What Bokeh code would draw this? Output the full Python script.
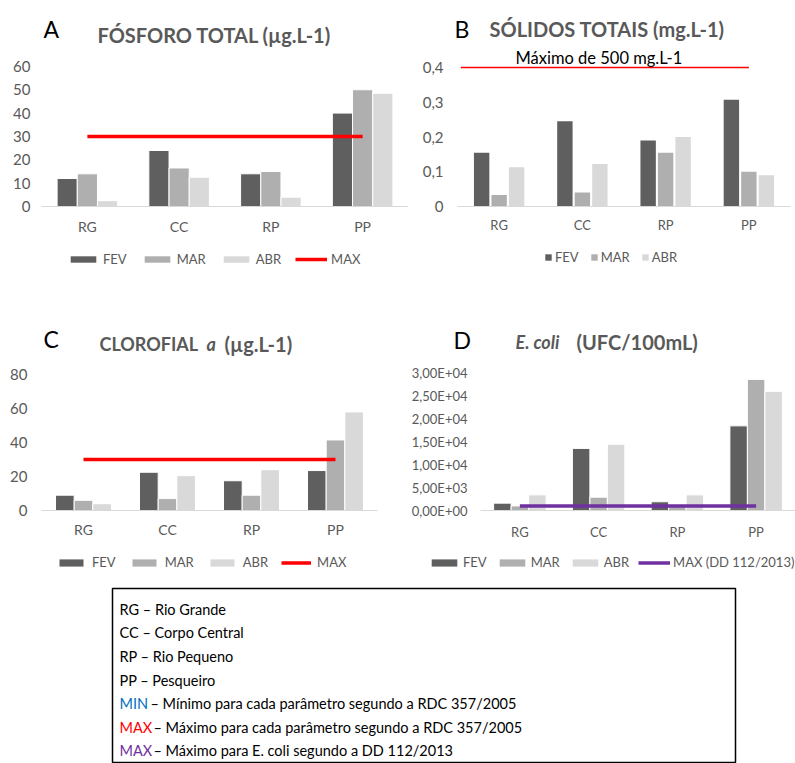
from bokeh.plotting import figure
from bokeh.models import (Range1d, FactorRange, FixedTicker, Label, ColumnDataSource,
                          Legend, LegendItem)
from bokeh.transform import dodge
from bokeh.layouts import column, row
from bokeh.embed import file_html
from bokeh.resources import INLINE

# ---------------- data ----------------
cats = ["RG", "CC", "RP", "PP"]

fosforo_fev = [12, 24, 14, 40]
fosforo_mar = [14, 16.5, 15, 50]
fosforo_abr = [2.5, 12.5, 4, 48.5]
fosforo_max = [30, 30, 30, 30]
fosforo_ticks = [0, 10, 20, 30, 40, 50, 60]
fosforo_tick_labels = ["0", "10", "20", "30", "40", "50", "60"]

solidos_fev = [0.155, 0.245, 0.19, 0.307]
solidos_mar = [0.033, 0.04, 0.155, 0.1]
solidos_abr = [0.113, 0.122, 0.2, 0.09]
solidos_max_from = ["RG"]
solidos_max_to = ["PP"]
solidos_max = [0.4]
solidos_ticks = [0, 0.1, 0.2, 0.3, 0.4]
solidos_tick_labels = ["0", "0,1", "0,2", "0,3", "0,4"]

clorofila_fev = [9, 22.5, 17.5, 23.5]
clorofila_mar = [6, 7, 9, 41.5]
clorofila_abr = [4, 20.5, 24, 58]
clorofila_max = [30, 30, 30, 30]
clorofila_ticks = [0, 20, 40, 60, 80]
clorofila_tick_labels = ["0", "20", "40", "60", "80"]

ecoli_fev = [1600, 13500, 1900, 18400]
ecoli_mar = [1000, 2900, 1000, 28500]
ecoli_abr = [3400, 14400, 3400, 25900]
ecoli_max = [1000, 1000, 1000, 1000]
ecoli_ticks = [0, 5000, 10000, 15000, 20000, 25000, 30000]
ecoli_tick_labels = ["0,00E+00", "5,00E+03", "1,00E+04", "1,50E+04",
                     "2,00E+04", "2,50E+04", "3,00E+04"]

series_names = ["FEV", "MAR", "ABR"]
series_cols = ["fev", "mar", "abr"]

key_prefix = ["", "", "", "", "MIN", "MAX", "MAX"]
key_prefix_colors = ["#000000", "#000000", "#000000", "#000000", "#0070c0", "#ff0000", "#7030a0"]
key_text = ["RG – Rio Grande", "CC – Corpo Central", "RP – Rio Pequeno", "PP – Pesqueiro",
            "– Mínimo para cada parâmetro segundo a RDC 357/2005",
            "– Máximo para cada parâmetro segundo a RDC 357/2005",
            "– Máximo para E. coli segundo a DD 112/2013"]

# ---------------- style ----------------
FONT = "Lato"
BAR_COLORS = ["#5f5f5f", "#afafaf", "#d9d9d9"]
GREY = "#595959"
W = 795


def blank_fig(width, height, x_range=None, y_range=None):
    q = figure(width=width, height=height,
               x_range=x_range if x_range is not None else Range1d(0, 1),
               y_range=y_range if y_range is not None else Range1d(0, 1),
               output_backend="svg", toolbar_location=None,
               x_axis_location=None, y_axis_location=None, min_border_left=0,
               min_border_right=0, min_border_top=0, min_border_bottom=0)
    q.outline_line_color = None
    q.xgrid.grid_line_color = None
    q.ygrid.grid_line_color = None
    return q


def add_text(p, text, x, y, size, color, style="normal"):
    p.add_layout(Label(x=x, y=y, x_units="screen", y_units="screen", text=text,
                       text_font=FONT, text_font_size=size, text_color=color,
                       text_font_style=style, text_baseline="middle",
                       text_align="left"))


def make_chart(width, height, fl, fr, fb, top_tick, px_to_top, ticks, tick_labels,
               tick_size, cat_size, tick_standoff, cat_standoff):
    frame_h = height - fb
    y_end = top_tick * frame_h / px_to_top
    p = figure(width=width, height=height, x_range=FactorRange(*cats),
               y_range=Range1d(0, y_end), output_backend="svg",
               toolbar_location=None, min_border_left=fl, min_border_right=fr,
               min_border_top=0, min_border_bottom=fb)
    p.outline_line_color = None
    p.xgrid.grid_line_color = None
    p.ygrid.grid_line_color = None
    for ax in (p.xaxis[0], p.yaxis[0]):
        ax.major_tick_line_color = None
        ax.minor_tick_line_color = None
        ax.major_tick_out = 0
        ax.major_tick_in = 0
        ax.minor_tick_out = 0
        ax.minor_tick_in = 0
        ax.major_label_text_font = FONT
        ax.major_label_text_color = GREY
    xa = p.xaxis[0]
    xa.axis_line_color = "#d9d9d9"
    xa.axis_line_width = 1
    xa.major_label_text_font_size = cat_size
    xa.major_label_standoff = cat_standoff
    ya = p.yaxis[0]
    ya.axis_line_color = None
    ya.ticker = FixedTicker(ticks=ticks)
    ya.major_label_overrides = {t: l for t, l in zip(ticks, tick_labels)}
    ya.major_label_text_font_size = tick_size
    ya.major_label_standoff = tick_standoff
    return p


def add_bars(p, values, offset, bw, gap_line):
    src = ColumnDataSource(dict(cat=cats, fev=values[0], mar=values[1], abr=values[2]))
    for i, col in enumerate(series_cols):
        p.vbar(x=dodge("cat", (i - 1) * offset, range=p.x_range), top=col,
               width=bw, source=src, fill_color=BAR_COLORS[i], line_color="white",
               line_width=gap_line)
    return src


def add_legend(q, src, max_src, max_label, max_color, vx, vy, gw, gh, standoff,
               spacing):
    # legend keys: the strip's y range lies below zero and the bars have no
    # area, so these renderers only appear as legend keys
    items = []
    for name, col, colr in zip(series_names, series_cols, BAR_COLORS):
        r = q.vbar(x="cat", top=col, bottom=col, width=0, source=src,
                   fill_color=colr, line_color=None, line_alpha=0, line_width=0)
        items.append(LegendItem(label=name, renderers=[r]))
    if max_src is not None:
        rl = q.line(x="cat", y="mx", source=max_src, line_color=max_color,
                    line_width=3.5)
        items.append(LegendItem(label=max_label, renderers=[rl]))
    lg = Legend(items=items, location=(vx, vy), orientation="horizontal",
                glyph_width=gw, glyph_height=gh, label_standoff=standoff,
                spacing=spacing, padding=0, margin=0, border_line_color=None,
                background_fill_alpha=0, label_text_font=FONT,
                label_text_font_size="13px", label_text_color=GREY,
                label_height=gh, label_width=0)
    q.add_layout(lg, "center")


# ================= row 1 header  (y 0..48) =================
H1 = 48
hdr1 = blank_fig(W, H1)
add_text(hdr1, "A", 43, H1 - 28, "23px", "#000000")
add_text(hdr1, "FÓSFORO TOTAL (µg.L-1)", 97, H1 - 34.5, "20px", GREY, "bold")
add_text(hdr1, "B", 454, H1 - 28.5, "23px", "#000000")
add_text(hdr1, "SÓLIDOS TOTAIS (mg.L-1)", 489, H1 - 28, "20px", GREY, "bold")

# ================= row 1 charts  (y 48..245) =================
# A: x 0..408, frame x 41..408, y 48..207 ; 60 at y=66
pA = make_chart(408, 197, 41, 0, 38, 60, 141, fosforo_ticks, fosforo_tick_labels,
                "15px", "14px", 11, 11)
srcA = add_bars(pA, [fosforo_fev, fosforo_mar, fosforo_abr], 0.22, 0.22, 1)
srcAm = ColumnDataSource(dict(cat=cats, mx=fosforo_max))
pA.line(x="cat", y="mx", source=srcAm, line_color="#ff0000", line_width=3.5)

# B: x 408..795, frame x 457..790, y 48..206 ; 0.4 at y=67
pB = make_chart(387, 197, 49, 5, 39, 0.4, 139, solidos_ticks, solidos_tick_labels,
                "15px", "13px", 14, 10)
srcB = add_bars(pB, [solidos_fev, solidos_mar, solidos_abr], 0.21, 0.185, 0)
srcBm = ColumnDataSource(dict(x0=solidos_max_from, x1=solidos_max_to, y=solidos_max))
pB.segment(x0=dodge("x0", -0.46, range=pB.x_range), y0="y", x1="x1", y1="y",
           source=srcBm, line_color="#ff0000", line_width=1.3)
add_text(pB, "Máximo de 500 mg.L-1", 515 - 457, 206 - 57, "16.5px", "#000000")

# ================= row 1 legends  (y 245..300) =================
leg1 = blank_fig(W, 55, FactorRange(*cats), Range1d(-2, -1))
add_legend(leg1, srcA, srcAm, "MAX", "#ff0000", 67, 33, 32, 8, 4, 14)
add_legend(leg1, srcB, None, None, None, 544, 35, 8, 8, 3, 11)

# ================= row 2 header  (y 300..356) =================
H2 = 56
hdr2 = blank_fig(W, H2)
add_text(hdr2, "C", 43, 356 - 338, "23px", "#000000")
add_text(hdr2, "CLOROFIAL", 99, 356 - 343, "18px", GREY, "bold")
add_text(hdr2, "a", 206, 356 - 343, "18px", GREY, "bold italic")
add_text(hdr2, "(µg.L-1)", 224, 356 - 343, "20px", GREY, "bold")
add_text(hdr2, "D", 453, 356 - 339.5, "23px", "#000000")
add_text(hdr2, "E. coli", 515, 356 - 341, "18px", GREY, "bold italic")
add_text(hdr2, "(UFC/100mL)", 576, 356 - 341, "20px", GREY, "bold")

# ================= row 2 charts  (y 356..548) =================
# C: x 0..408, frame x 41..377, y 356..510 ; 80 at y=374
pC = make_chart(408, 192, 41, 31, 38, 80, 136, clorofila_ticks, clorofila_tick_labels,
                "15px", "14px", 14, 10)
srcC = add_bars(pC, [clorofila_fev, clorofila_mar, clorofila_abr], 0.222, 0.222, 1)
srcCm = ColumnDataSource(dict(cat=cats, mx=clorofila_max))
pC.line(x="cat", y="mx", source=srcCm, line_color="#ff0000", line_width=3.5)

# D: x 408..795, frame x 477..795, y 356..510 ; 3e4 at y=372
pD = make_chart(387, 192, 69, 0, 38, 30000, 138, ecoli_ticks, ecoli_tick_labels,
                "13px", "13px", 13, 13)
srcD = add_bars(pD, [ecoli_fev, ecoli_mar, ecoli_abr], 0.222, 0.222, 1)
srcDm = ColumnDataSource(dict(cat=cats, mx=ecoli_max))
pD.line(x="cat", y="mx", source=srcDm, line_color="#7030a0", line_width=3.5)

# ================= row 2 legends  (y 548..580) =================
leg2 = blank_fig(W, 32, FactorRange(*cats), Range1d(-2, -1))
add_legend(leg2, srcC, srcCm, "MAX", "#ff0000", 56, 10, 30, 9, 6, 13)
add_legend(leg2, srcD, srcDm, "MAX (DD 112/2013)", "#7030a0", 428, 10, 32, 9, 3, 9)

# ================= key box  (y 580..763) =================
pK = figure(width=W, height=183, x_range=Range1d(0, 1), y_range=Range1d(0, 1),
            output_backend="svg", toolbar_location=None, x_axis_location=None,
            y_axis_location=None, min_border_left=112, min_border_right=60,
            min_border_top=8, min_border_bottom=0)
pK.xgrid.grid_line_color = None
pK.ygrid.grid_line_color = None
pK.outline_line_color = "#000000"
pK.outline_line_width = 1.5
line_centers = [608.5, 632, 656, 680, 703, 726.5, 750]
prefix_x_end = {"MIN": 150, "MAX": 153}
for pre, colr, txt, yc in zip(key_prefix, key_prefix_colors, key_text, line_centers):
    if pre:
        add_text(pK, pre, 119 - 112, 763 - yc, "14.5px", colr)
        add_text(pK, txt, prefix_x_end[pre] - 112, 763 - yc, "14.5px", "#000000")
    else:
        add_text(pK, txt, 119 - 112, 763 - yc, "14.5px", "#000000")

layout = column(row(hdr1), row(pA, pB), row(leg1), row(hdr2), row(pC, pD),
                row(leg2), row(pK))
open("out.html", "w").write(file_html(layout, INLINE))
